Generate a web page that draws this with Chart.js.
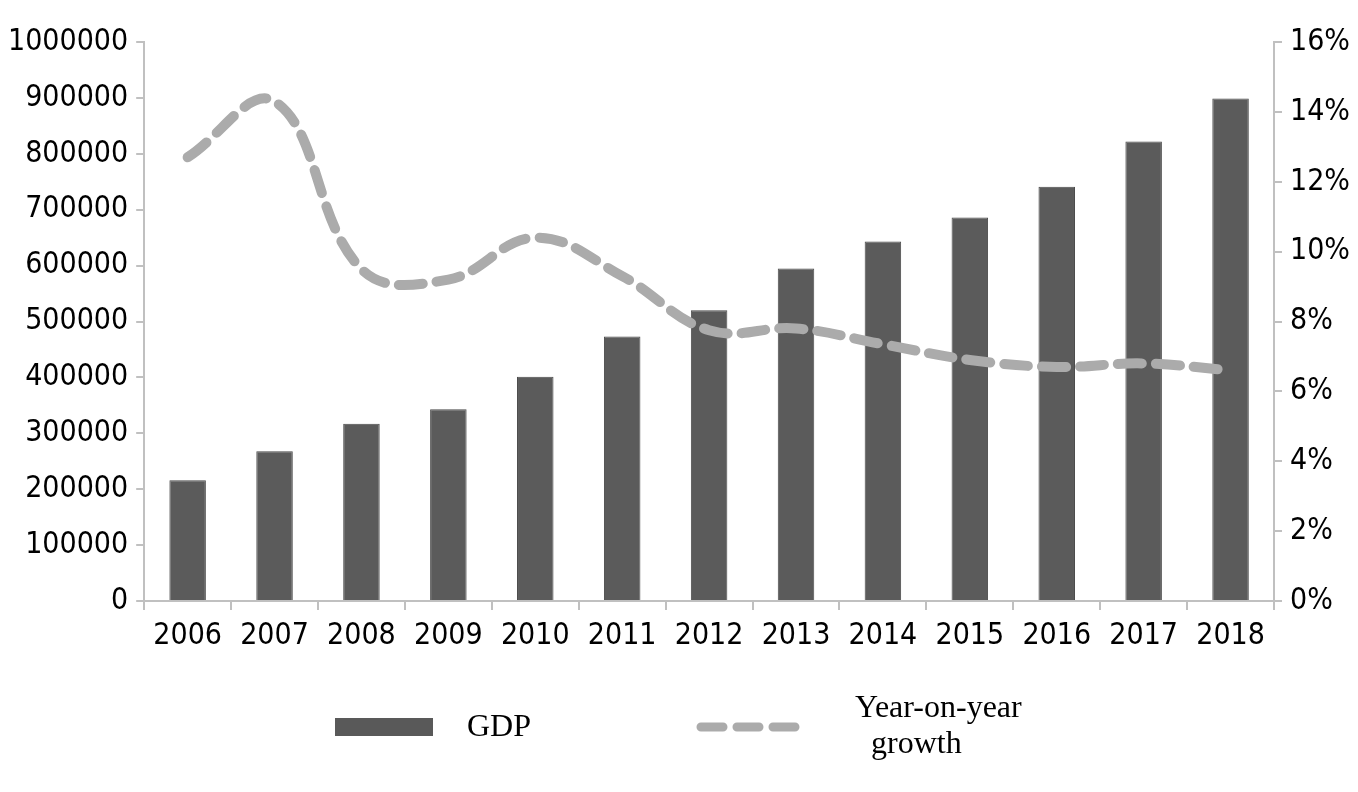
<!DOCTYPE html>
<html>
<head>
<meta charset="utf-8">
<script src="https://cdn.jsdelivr.net/npm/chart.js@4/dist/chart.umd.min.js"></script>
<style>
  html, body { margin: 0; padding: 0; background: #fff; }
  #wrap { width: 1358px; height: 792px; position: relative; }
</style>
</head>
<body>
<div id="wrap"><canvas id="grafico" width="1358" height="792"></canvas></div>
<script>
const years = ['2006', '2007', '2008', '2009', '2010', '2011', '2012', '2013', '2014', '2015', '2016', '2017', '2018'];
const gdp = [216000, 268000, 317000, 343000, 401000, 473000, 520000, 595000, 643000, 686000, 741000, 822000, 899000];
const growth = [12.7, 14.3, 9.5, 9.2, 10.4, 9.3, 7.75, 7.8, 7.35, 6.9, 6.7, 6.8, 6.6];
const legendLabels = ['GDP', 'Year-on-year', 'growth'];

const axisColor = '#c0c0c0';
const tickFont = { family: 'DejaVu Sans Condensed', size: 30 };

// leyenda dibujada a mano debajo del gráfico
const leyenda = {
    id: 'leyenda',
    afterDraw(chart) {
        const ctx = chart.ctx;
        ctx.save();
        ctx.fillStyle = '#595959';
        ctx.fillRect(335, 718, 98, 18);

        ctx.strokeStyle = '#ababab';
        ctx.lineWidth = 9;
        ctx.lineCap = 'round';
        ctx.setLineDash([22, 14]);
        ctx.beginPath();
        ctx.moveTo(701, 727);
        ctx.lineTo(799, 727);
        ctx.stroke();
        ctx.setLineDash([]);

        ctx.fillStyle = '#000';
        ctx.font = '32px "Liberation Serif"';
        ctx.textBaseline = 'middle';
        ctx.fillText(legendLabels[0], 467, 728);
        ctx.fillText(legendLabels[1], 855, 709);
        ctx.fillText(legendLabels[2], 871, 745);
        ctx.restore();
    }
};

const ctx = document.getElementById('grafico').getContext('2d');
new Chart(ctx, {
    data: {
        labels: years,
        datasets: [
            {
                type: 'line',
                label: 'Year-on-year growth',
                data: growth,
                yAxisID: 'y2',
                borderColor: '#ababab',
                borderWidth: 10,
                borderDash: [24, 14],
                borderCapStyle: 'round',
                pointRadius: 0,
                tension: 0.4,
                fill: false,
                order: 0,
            },
            {
                type: 'bar',
                label: 'GDP',
                data: gdp,
                yAxisID: 'y',
                backgroundColor: '#5b5b5b',
                borderColor: '#4a4a4a',
                borderWidth: 1,
                categoryPercentage: 1,
                barPercentage: 0.42,
                order: 1,
            },
        ],
    },
    options: {
        responsive: false,
        animation: false,
        layout: { padding: { left: 0, right: 0, top: 42, bottom: 130 } },
        plugins: { legend: { display: false }, tooltip: { enabled: false } },
        scales: {
            x: {
                offset: true,
                grid: { display: true, drawOnChartArea: false, offset: true, color: axisColor, lineWidth: 2, tickLength: 9 },
                border: { color: axisColor, width: 2 },
                ticks: { color: '#000', font: tickFont, padding: 8 },
            },
            y: {
                position: 'left',
                min: 0,
                max: 1000000,
                ticks: { stepSize: 100000, color: '#000', font: tickFont, padding: 8, callback: v => String(v) },
                grid: { display: true, drawOnChartArea: false, color: axisColor, lineWidth: 2, tickLength: 8 },
                border: { color: axisColor, width: 2 },
            },
            y2: {
                position: 'right',
                min: 0,
                max: 16,
                ticks: { stepSize: 2, color: '#000', font: tickFont, padding: 8, callback: v => v + '%' },
                grid: { display: true, drawOnChartArea: false, color: axisColor, lineWidth: 2, tickLength: 8 },
                border: { color: axisColor, width: 2 },
            },
        },
    },
    plugins: [leyenda],
});
</script>
</body>
</html>
